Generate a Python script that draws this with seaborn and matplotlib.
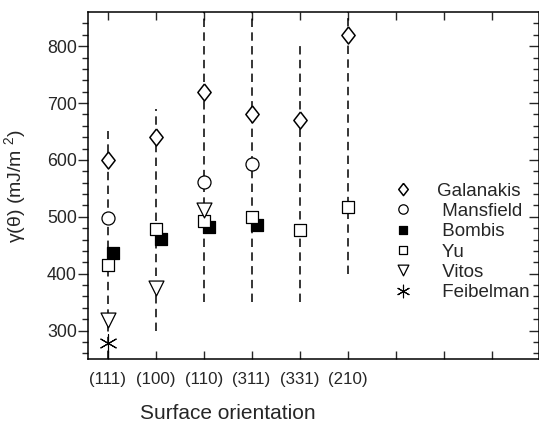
import numpy as np
import pandas as pd
import matplotlib
matplotlib.use('Agg')
import matplotlib.pyplot as plt
import seaborn as sns

# Surface orientations and literature values of the surface energy (mJ/m^2)
orientations = ['(111)', '(100)', '(110)', '(311)', '(331)', '(210)']
galanakis = [600, 640, 720, 680, 670, 820]
mansfield = [497, None, 561, 592, None, None]
bombis = [436, 461, 482, 485, None, None]
yu = [416, 478, 493, 500, 476, 518]
vitos = [318, 375, 512, None, None, None]
feibelman = [279, None, None, None, None, None]

# ranges shown as vertical dashed lines
range_lo = [250, 300, 350, 350, 350, 400]
range_hi = [650, 690, 880, 880, 800, 880]

sns.set_style('ticks')
plt.rcParams['font.family'] = ['Liberation Sans', 'DejaVu Sans']
plt.rcParams['mathtext.fontset'] = 'custom'
plt.rcParams['mathtext.rm'] = 'Liberation Sans'

fig = plt.figure(figsize=(5.39, 4.23), dpi=100)
ax = fig.add_axes([88 / 539, 1 - 359 / 423, 451 / 539, 347 / 423])

xpos = np.arange(1, len(orientations) + 1)

# dashed ranges
ax.vlines(xpos, range_lo, range_hi, colors='black', linewidth=1.1,
          linestyles=[(0, (5.5, 3.5))], zorder=1)

diamond = [(0, 1), (0.78, 0), (0, -1), (-0.78, 0), (0, 1)]
series = [
    (' Mansfield', mansfield, 'o', 88, 'white', 0.0),
    (' Bombis', bombis, 's', 63, 'black', 0.11),
    (' Yu', yu, 's', 63, 'white', 0.0),
    (' Vitos', vitos, 'v', 115, 'white', 0.0),
]

def to_df(vals, offset=0.0):
    d = pd.DataFrame({'x': xpos + offset, 'y': vals})
    return d.dropna()

sns.scatterplot(data=to_df(galanakis), x='x', y='y', marker=diamond, s=150,
                facecolor='white', edgecolor='black', linewidth=1.1,
                label='Galanakis', ax=ax, zorder=3)
for lab, vals, mk, size, fc, off in series:
    sns.scatterplot(data=to_df(vals, off), x='x', y='y', marker=mk, s=size,
                    facecolor=fc, edgecolor='black', linewidth=0.9,
                    label=lab, ax=ax, zorder=3)
sns.scatterplot(data=to_df(feibelman), x='x', y='y', marker=(6, 2, 0), s=160,
                color='black', linewidth=0.8, label=' Feibelman', ax=ax, zorder=3)

ax.set_xlim(0.59, 9.99)
ax.set_ylim(250, 860)
ax.set_xticks(np.arange(1, 10))
ax.set_xticklabels(orientations + [''] * 3, fontsize=12.2)
ax.set_yticks([300, 400, 500, 600, 700, 800])
ax.set_yticks(np.arange(260, 860, 20), minor=True)
ax.tick_params(axis='y', which='major', direction='out', length=7, width=1,
               labelsize=12.8, pad=1, right=True)
ax.tick_params(axis='y', which='minor', direction='out', length=4, width=1, right=True)
ax.tick_params(axis='x', which='major', direction='in', length=6, width=1,
               top=True, pad=9)
# right side ticks point inward
for t in ax.yaxis.get_major_ticks() + ax.yaxis.get_minor_ticks():
    t.tick2line.set_marker(matplotlib.lines.TICKLEFT)

for sp in ax.spines.values():
    sp.set_linewidth(1.1)
    sp.set_color('black')

ax.set_xlabel('Surface orientation', fontsize=15)
ax.xaxis.set_label_coords(0.309, -0.13)
ax.set_ylabel(r'γ(θ) (mJ/m $^{2}$)', fontsize=14, labelpad=13)

ax.legend(frameon=False, fontsize=13.5, markerscale=0.72, loc='upper left',
          bbox_to_anchor=(393.6 / 539, 1 - 182.5 / 423), bbox_transform=fig.transFigure,
          borderpad=0, borderaxespad=0, handlelength=1.0, handletextpad=1.3,
          labelspacing=0.17, scatterpoints=1, scatteryoffsets=[0.5])

fig.savefig('out.png', dpi=100)
